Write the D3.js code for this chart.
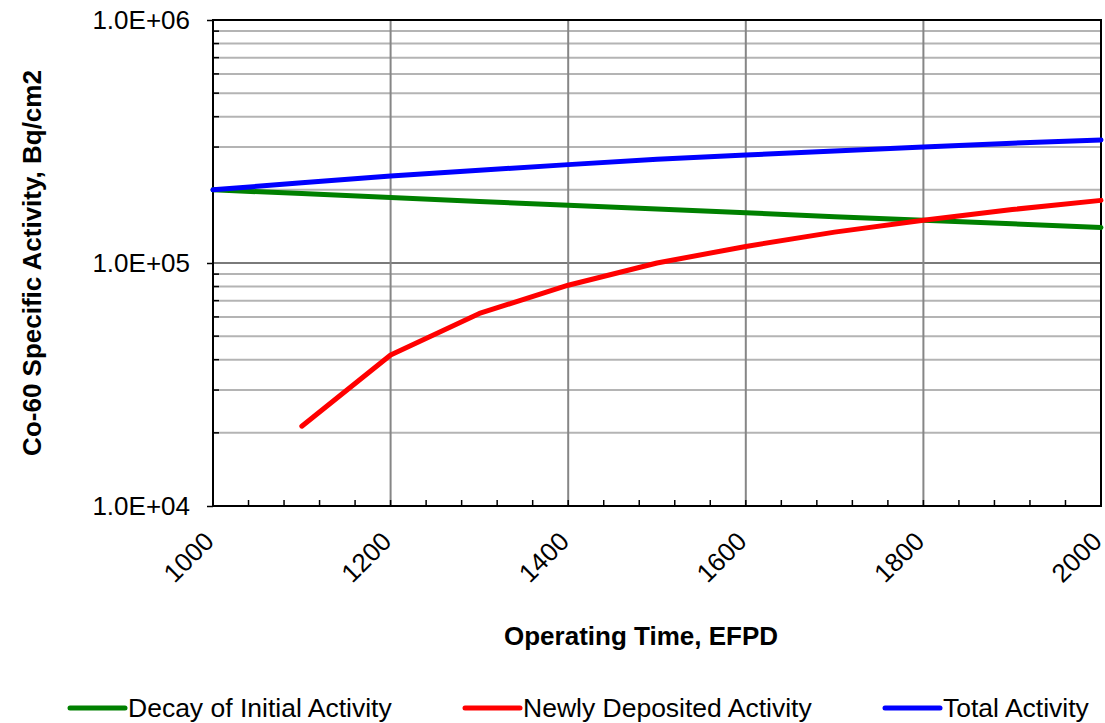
<!DOCTYPE html>
<html>
<head>
<meta charset="utf-8">
<script src="https://cdn.jsdelivr.net/npm/d3@7"></script>
<style>
body { margin: 0; background: #fff; }
svg { display: block; font-family: "Liberation Sans", Arial, sans-serif; }
</style>
</head>
<body>
<svg id="chart" width="1105" height="723"></svg>
<script>
// data
const days		= [1000, 1100, 1200, 1300, 1400, 1500, 1600, 1700, 1800, 1900, 2000];
const decay		= [2.00e5, 1.93e5, 1.86e5, 1.79e5, 1.73e5, 1.67e5, 1.61e5, 1.55e5, 1.50e5, 1.45e5, 1.40e5];
const deposited	= [null, 2.13e4, 4.18e4, 6.2e4, 8.1e4, 1.0e5, 1.17e5, 1.34e5, 1.50e5, 1.66e5, 1.81e5];
const total		= [2.00e5, 2.14e5, 2.28e5, 2.41e5, 2.54e5, 2.67e5, 2.78e5, 2.89e5, 3.00e5, 3.11e5, 3.21e5];
const xTicks	= [1000, 1200, 1400, 1600, 1800, 2000];
const yTicks	= [1e4, 1e5, 1e6];
const seriesNames	= ['Decay of Initial Activity', 'Newly Deposited Activity', 'Total Activity'];
const seriesColors	= ['#008000', '#ff0000', '#0000ff'];

const pLeft = 213, pRight = 1101, pTop = 20, pBottom = 506;
const font = '"Liberation Sans", Arial, sans-serif';

var svg = d3.select('#chart');
var x = d3.scaleLinear().domain([1000, 2000]).range([pLeft, pRight]);
var y = d3.scaleLog().domain([1e4, 1e6]).range([pBottom, pTop]);

// minor horizontal grid (2..9 in each decade)
var minors = [];
[1e4, 1e5].forEach(function(d){
	for(var k = 2; k <= 9; k++) minors.push(d * k);
});
var grid = svg.append('g');
grid.selectAll('line.hmin').data(minors).enter().append('line')
	.attr('x1', pLeft).attr('x2', pRight)
	.attr('y1', d => y(d)).attr('y2', d => y(d))
	.attr('stroke', '#b4b4b4').attr('stroke-width', 2);
grid.selectAll('line.hmaj').data([1e5]).enter().append('line')
	.attr('x1', pLeft).attr('x2', pRight)
	.attr('y1', d => y(d)).attr('y2', d => y(d))
	.attr('stroke', '#7a7a7a').attr('stroke-width', 2);
grid.selectAll('line.v').data(xTicks.slice(1, -1)).enter().append('line')
	.attr('y1', pTop).attr('y2', pBottom)
	.attr('x1', d => x(d)).attr('x2', d => x(d))
	.attr('stroke', '#868686').attr('stroke-width', 2);

// plot frame
svg.append('rect').attr('x', pLeft).attr('y', pTop)
	.attr('width', pRight - pLeft).attr('height', pBottom - pTop)
	.attr('fill', 'none').attr('stroke', '#000').attr('stroke-width', 2);

// y axis: major ticks outside, minor ticks inside
var yAxis = d3.axisLeft(y).tickValues(yTicks).tickSize(6)
	.tickFormat(d => '1.0E+0' + Math.round(Math.log10(d)));
var gy = svg.append('g').attr('transform', 'translate(' + pLeft + ',0)').call(yAxis);
gy.select('.domain').remove();
gy.selectAll('.tick line').attr('stroke', '#000').attr('stroke-width', 1.5);
gy.selectAll('.tick text').attr('x', -23).attr('font-size', 26)
	.attr('font-family', font).attr('fill', '#000');
svg.append('g').selectAll('line').data(minors).enter().append('line')
	.attr('x1', pLeft).attr('x2', pLeft + 6)
	.attr('y1', d => y(d)).attr('y2', d => y(d))
	.attr('stroke', '#000').attr('stroke-width', 1.5);

// x axis: minor ticks inside every 40
var xMinor = d3.range(1040, 2000, 40);
svg.append('g').selectAll('line').data(xMinor).enter().append('line')
	.attr('x1', d => x(d)).attr('x2', d => x(d))
	.attr('y1', pBottom).attr('y2', pBottom - 6)
	.attr('stroke', '#000').attr('stroke-width', 1.5);
var xAxis = d3.axisBottom(x).tickValues(xTicks).tickSize(0).tickFormat(d3.format('d'));
var gx = svg.append('g').attr('transform', 'translate(0,' + pBottom + ')').call(xAxis);
gx.select('.domain').remove();
gx.selectAll('.tick text')
	.attr('font-size', 26).attr('fill', '#000')
	.attr('font-family', font)
	.attr('text-anchor', 'end').attr('dy', 0).attr('y', 0)
	.attr('transform', 'translate(2,37) rotate(-45)');

// axis titles
svg.append('text').attr('x', 641).attr('y', 645)
	.attr('text-anchor', 'middle').attr('font-size', 26).attr('font-weight', 'bold')
	.text('Operating Time, EFPD');
svg.append('text').attr('transform', 'translate(41,' + y(1e5) + ') rotate(-90)')
	.attr('text-anchor', 'middle').attr('font-size', 26).attr('font-weight', 'bold')
	.text('Co-60 Specific Activity, Bq/cm2');

// series
var line = d3.line()
	.defined(d => d[1] != null)
	.x(d => x(d[0])).y(d => y(d[1]));
[decay, deposited, total].forEach(function(vals, i){
	svg.append('path')
		.datum(days.map((d, j) => [d, vals[j]]))
		.attr('d', line)
		.attr('fill', 'none')
		.attr('stroke', seriesColors[i])
		.attr('stroke-width', 5)
		.attr('stroke-linejoin', 'round')
		.attr('stroke-linecap', 'round');
});

// legend
var legendX = [70, 465, 885];
var lg = svg.append('g').selectAll('g').data(seriesNames).enter().append('g')
	.attr('transform', (d, i) => 'translate(' + legendX[i] + ',708)');
lg.append('line').attr('x1', 0).attr('x2', 55).attr('y1', 0).attr('y2', 0)
	.attr('stroke', (d, i) => seriesColors[i]).attr('stroke-width', 5)
	.attr('stroke-linecap', 'round');
lg.append('text').attr('x', 58).attr('y', 9).attr('font-size', 26.5)
	.text(d => d);
</script>
</body>
</html>
